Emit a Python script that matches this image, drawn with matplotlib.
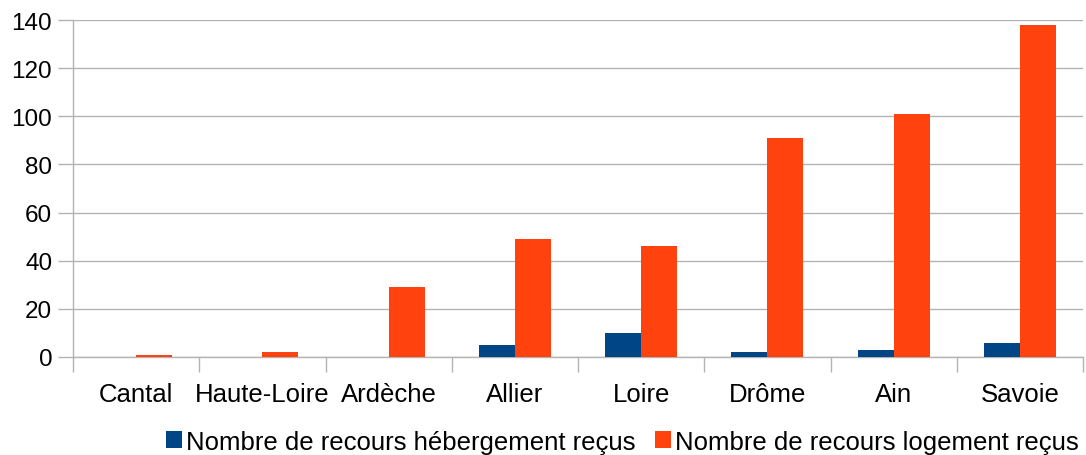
import numpy as np
import matplotlib
matplotlib.use("Agg")
import matplotlib.pyplot as plt
from matplotlib.patches import Patch

# data
departements = ["Cantal", "Haute-Loire", "Ardèche", "Allier", "Loire",
                "Drôme", "Ain", "Savoie"]
hebergement = [0, 0, 0, 5, 10, 2, 3, 6]
logement = [1, 2, 29, 49, 46, 91, 101, 138]
series_labels = ["Nombre de recours hébergement reçus",
                 "Nombre de recours logement reçus"]

BLUE = "#004586"
ORANGE = "#ff420e"
GRID = "#b3b3b3"

plt.rcParams["font.family"] = ["Liberation Sans", "DejaVu Sans"]

fig = plt.figure(figsize=(10.86, 4.56), dpi=100)
ax = fig.add_axes([73 / 1086, 98 / 456, 1010 / 1086, 337 / 456])

x = np.arange(len(departements))
w = 36 / 126
ax.bar(x - w / 2, hebergement, w, color=BLUE, zorder=3)
ax.bar(x + w / 2, logement, w, color=ORANGE, zorder=3)

ax.set_xlim(-0.5, len(departements) - 0.5)
ax.set_ylim(0, 140)
ax.set_yticks(np.arange(0, 141, 20))
ax.yaxis.grid(True, color=GRID, linewidth=1, zorder=0)

ax.set_xticks(x)
ax.set_xticklabels(departements)
ax.set_xticks(np.arange(-0.5, len(departements)), minor=True)
ax.tick_params(axis="x", which="major", length=0, pad=18, labelsize=18.5)
ax.tick_params(axis="x", which="minor", length=11, color=GRID, width=1)
ax.tick_params(axis="y", length=11, color=GRID, width=1, labelsize=17.5, pad=4)

for s in ["top", "right"]:
    ax.spines[s].set_visible(False)
for s in ["left", "bottom"]:
    ax.spines[s].set_color(GRID)
    ax.spines[s].set_linewidth(1)

fig.legend(handles=[Patch(facecolor=BLUE, label=series_labels[0]),
                    Patch(facecolor=ORANGE, label=series_labels[1])],
           loc="lower left", bbox_to_anchor=(156 / 1086, -0.02), ncol=2,
           frameon=False, fontsize=18.5, handlelength=0.62, handleheight=0.62,
           handletextpad=0.15, columnspacing=0.75, borderaxespad=0)

fig.savefig("out.png", dpi=100, facecolor="white")
